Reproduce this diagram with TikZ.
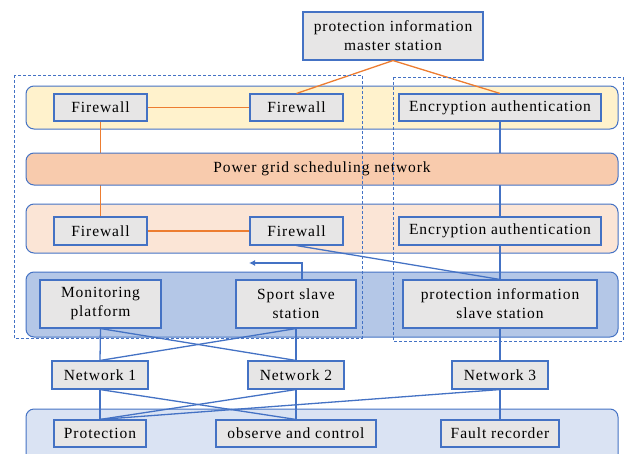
\documentclass[tikz,border=0pt]{standalone}
\usepackage{fontspec}
\setmainfont[LetterSpace=6]{Liberation Serif}
\usetikzlibrary{arrows.meta}

\definecolor{boxgray}{HTML}{E7E6E6}
\definecolor{edgeblue}{HTML}{4472C4}
\definecolor{wireorange}{HTML}{ED7D31}
\definecolor{zoneyellow}{HTML}{FFF2CC}
\definecolor{zonegrid}{HTML}{F8CBAD}
\definecolor{zonepeach}{HTML}{FBE5D6}
\definecolor{zoneblue}{HTML}{B4C7E7}
\definecolor{zonepale}{HTML}{DAE3F3}

\begin{document}
\begin{tikzpicture}[x=1pt, y=-1pt,
    font=\fontsize{15.5}{19}\selectfont,
    unit/.style={draw=edgeblue, fill=boxgray, line width=1.1pt, inner sep=0pt,
        minimum height=27, align=center},
    tall/.style={unit, minimum height=48},
    zone/.style={draw=edgeblue, line width=1pt, rounded corners=8},
    owire/.style={draw=wireorange, line width=1.3pt},
    bwire/.style={draw=edgeblue, line width=1.3pt},
    region/.style={draw=edgeblue, line width=0.9pt, dash pattern=on 3pt off 2pt}]
    \useasboundingbox (0,0) rectangle (627,453);

    % background bands
    \draw[zone, fill=zoneyellow] (26,86) rectangle (618,129);
    \draw[zone, fill=zonepeach] (26,204) rectangle (618,253);
    \draw[zone, fill=zoneblue] (26,272) rectangle (618,337);
    \draw[zone, fill=zonepale] (26,409) rectangle (618,475);

    % stations and devices
    \node[tall, minimum width=180] (master) at (393,36) {protection information\\master station};

    \node[unit, minimum width=93] (fwA) at (100.5,107.5) {Firewall};
    \node[unit, minimum width=93] (fwB) at (296.5,107.5) {Firewall};
    \node[unit, minimum width=202] (encA) at (500,107.5) {Encryption authentication};

    \node[unit, minimum width=93, minimum height=28] (fwC) at (100.5,231) {Firewall};
    \node[unit, minimum width=93, minimum height=28] (fwD) at (296.5,231) {Firewall};
    \node[unit, minimum width=202, minimum height=28] (encB) at (500,231) {Encryption authentication};

    \node[tall, minimum width=121] (monitor) at (100.5,304) {Monitoring\\platform};
    \node[tall, minimum width=120] (sport) at (296,304) {Sport slave\\station};
    \node[tall, minimum width=194] (slave) at (500,304) {protection information\\slave station};

    \node[unit, minimum width=96, minimum height=28] (net1) at (100,375) {Network 1};
    \node[unit, minimum width=96, minimum height=28] (net2) at (296,375) {Network 2};
    \node[unit, minimum width=96, minimum height=28] (net3) at (500,375) {Network 3};

    \node[unit, minimum width=92] (prot) at (100,433.5) {Protection};
    \node[unit, minimum width=160] (obs) at (296,433.5) {observe and control};
    \node[unit, minimum width=118] (fault) at (500,433.5) {Fault recorder};

    % links above the bands
    \draw[owire] (master.south) -- (fwB.north);
    \draw[owire] (master.south) -- (encA.north);
    \draw[owire] (fwA.east) -- (fwB.west);
    \draw[owire] (fwA.south) -- (fwC.north);
    \draw[owire] (fwC.east) -- (fwD.west);
    \draw[bwire] (encA.south) -- (encB.north);
    \draw[bwire] (encB.south) -- (slave.north);
    \draw[bwire] (fwD.south) -- (slave.north);

    \coordinate (uplink) at (249,263);
    \draw[bwire, -{Latex[length=6pt,width=6pt]}] ([xshift=6]sport.north) |- (uplink);

    % crossed links to the networks
    \foreach \s in {monitor,sport}
        \foreach \t in {net1,net2}
            \draw[bwire] (\s.south) -- (\t.north);
    \draw[bwire] (slave.south) -- (net3.north);

    \foreach \s in {net1,net2}
        \foreach \t in {prot,obs}
            \draw[bwire] (\s.south) -- (\t.north);
    \draw[bwire] (net3.south) -- (prot.north);
    \draw[bwire] (net3.south) -- (fault.north);

    % scheduling network band covers the vertical links
    \node[zone, fill=zonegrid, minimum width=592, minimum height=32, inner sep=0pt]
        (grid) at (322,169) {Power grid scheduling network};

    % security regions
    \draw[region] (14,75) rectangle (362,338);
    \draw[region] (393,77) rectangle (623,341);
\end{tikzpicture}
\end{document}
